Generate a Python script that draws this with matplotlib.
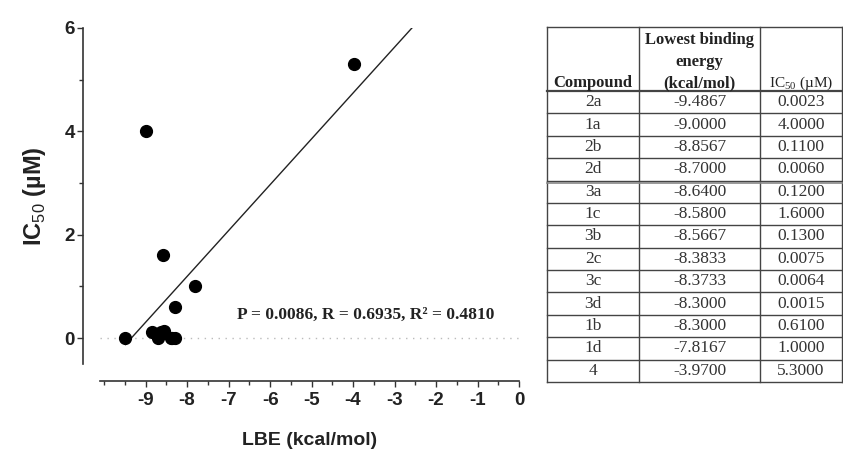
import numpy as np
import matplotlib
matplotlib.use("Agg")
import matplotlib.pyplot as plt
from matplotlib.ticker import MultipleLocator

compounds = ['2a', '1a', '2b', '2d', '3a', '1c', '3b', '2c', '3c', '3d', '1b', '1d', '4']
lbe = [-9.4867, -9.0000, -8.8567, -8.7000, -8.6400, -8.5800, -8.5667,
       -8.3833, -8.3733, -8.3000, -8.3000, -7.8167, -3.9700]
ic50 = [0.0023, 4.0000, 0.1100, 0.0060, 0.1200, 1.6000, 0.1300,
        0.0075, 0.0064, 0.0015, 0.6100, 1.0000, 5.3000]
x_ticks = [-9, -8, -7, -6, -5, -4, -3, -2, -1, 0]
y_ticks = [0, 2, 4, 6]
stats_text = 'P = 0.0086, R = 0.6935, R² = 0.4810'

plt.rcParams['axes.unicode_minus'] = False
plt.rcParams['mathtext.fontset'] = 'custom'
plt.rcParams['mathtext.rm'] = 'Liberation Serif'
plt.rcParams['mathtext.sf'] = 'Liberation Sans'
plt.rcParams['mathtext.bf'] = 'Liberation Sans:bold'

W, H = 843, 451
fig = plt.figure(figsize=(W / 100, H / 100), dpi=100)

# ---- scatter plot ----
ax = fig.add_axes([100 / W, (H - 364) / H, 419 / W, 336 / H])
ax.set_xlim(-10.1, 0)
ax.set_ylim(-0.5, 6)

# regression line through the points
slope, intercept = np.polyfit(lbe, ic50, 1)
xs = np.array([min(lbe), 0])
ax.plot(xs, slope * xs + intercept, color='#222222', lw=1.0, zorder=2)

ax.axhline(0, color='#bbbbbb', lw=1.0, ls=(0, (1, 4)), zorder=1)
ax.plot(lbe, ic50, 'o', color='black', markersize=8.5, zorder=3)

ax.text(-6.8, 0.46, stats_text, family='Liberation Serif', fontweight='bold',
        fontsize=12.5, color='#222222', va='center', ha='left')

for s in ['top', 'right']:
    ax.spines[s].set_visible(False)
ax.spines['left'].set_position(('outward', 12))
ax.spines['bottom'].set_position(('outward', 12.5))
ax.spines['left'].set_bounds(-0.5, 6)
ax.spines['bottom'].set_bounds(-10.1, 0)
for s in ['left', 'bottom']:
    ax.spines[s].set_linewidth(1.2)
    ax.spines[s].set_color('#333333')

ax.set_xticks(x_ticks)
ax.set_yticks(y_ticks)
ax.xaxis.set_minor_locator(MultipleLocator(0.5))
ax.yaxis.set_minor_locator(MultipleLocator(1))
ax.tick_params(which='both', color='#333333', width=1.0)
ax.tick_params(which='major', length=4)
ax.tick_params(which='minor', length=3)
ax.tick_params(axis='x', pad=4)
ax.tick_params(axis='y', pad=2)
for lab in ax.get_xticklabels() + ax.get_yticklabels():
    lab.set_family(['Liberation Sans Narrow', 'Liberation Sans'])
    lab.set_fontweight('bold')
    lab.set_fontsize(13.5)
    lab.set_color('#222222')

ax.set_xlabel('LBE (kcal/mol)', family='Liberation Sans', fontweight='bold',
              fontsize=14, color='#222222', labelpad=16)
ax.set_ylabel(r'IC$_{\mathsf{50}}$ (µM)', family='Liberation Sans', fontweight='bold',
              fontsize=17, color='#222222', labelpad=12)

# ---- table ----
col_edges = [547, 639, 760, 842]
top, header_bottom, bottom = 27, 91, 382
row_h = (bottom - header_bottom) / len(compounds)

tax = fig.add_axes([0, 0, 1, 1])
tax.set_xlim(0, W)
tax.set_ylim(H, 0)
tax.axis('off')

line_kw = dict(color='#444444', lw=1.0)
for xe in col_edges:
    tax.plot([xe, xe], [top, bottom], **line_kw)
tax.plot([col_edges[0], col_edges[-1]], [top, top], **line_kw)
tax.plot([col_edges[0], col_edges[-1]], [header_bottom, header_bottom], lw=1.6, color='#444444')
for i in range(1, len(compounds) + 1):
    yy = header_bottom + i * row_h
    tax.plot([col_edges[0], col_edges[-1]], [yy, yy], **line_kw)
# double rule after 2d
yy = header_bottom + 4 * row_h
tax.plot([col_edges[0], col_edges[-1]], [yy + 2, yy + 2], color='#888888', lw=1.2)

centers = [(col_edges[i] + col_edges[i + 1]) / 2 for i in range(3)]
serif = 'Liberation Serif'
tax.text(centers[0], 83, 'Compound', family=serif, fontweight='bold', fontsize=12,
         ha='center', va='center', color='#222222')
for txt, yy in [('Lowest binding', 40), ('energy', 62), ('(kcal/mol)', 83)]:
    tax.text(centers[1], yy, txt, family=serif, fontweight='bold', fontsize=12,
             ha='center', va='center', color='#222222')
tax.text(centers[2], 83, r'IC$_{\mathrm{50}}$ (µM)', family=serif, fontsize=11,
         ha='center', va='center', color='#222222')

for i, (c, e, v) in enumerate(zip(compounds, lbe, ic50)):
    yc = header_bottom + (i + 0.5) * row_h
    tax.text(centers[0], yc, c, family=serif, fontsize=12.5, ha='center', va='center', color='#333333')
    tax.text(centers[1], yc, f'{e:.4f}', family=serif, fontsize=12.5, ha='center', va='center', color='#333333')
    tax.text(centers[2], yc, f'{v:.4f}', family=serif, fontsize=12.5, ha='center', va='center', color='#333333')

fig.savefig('out.png', dpi=100)
